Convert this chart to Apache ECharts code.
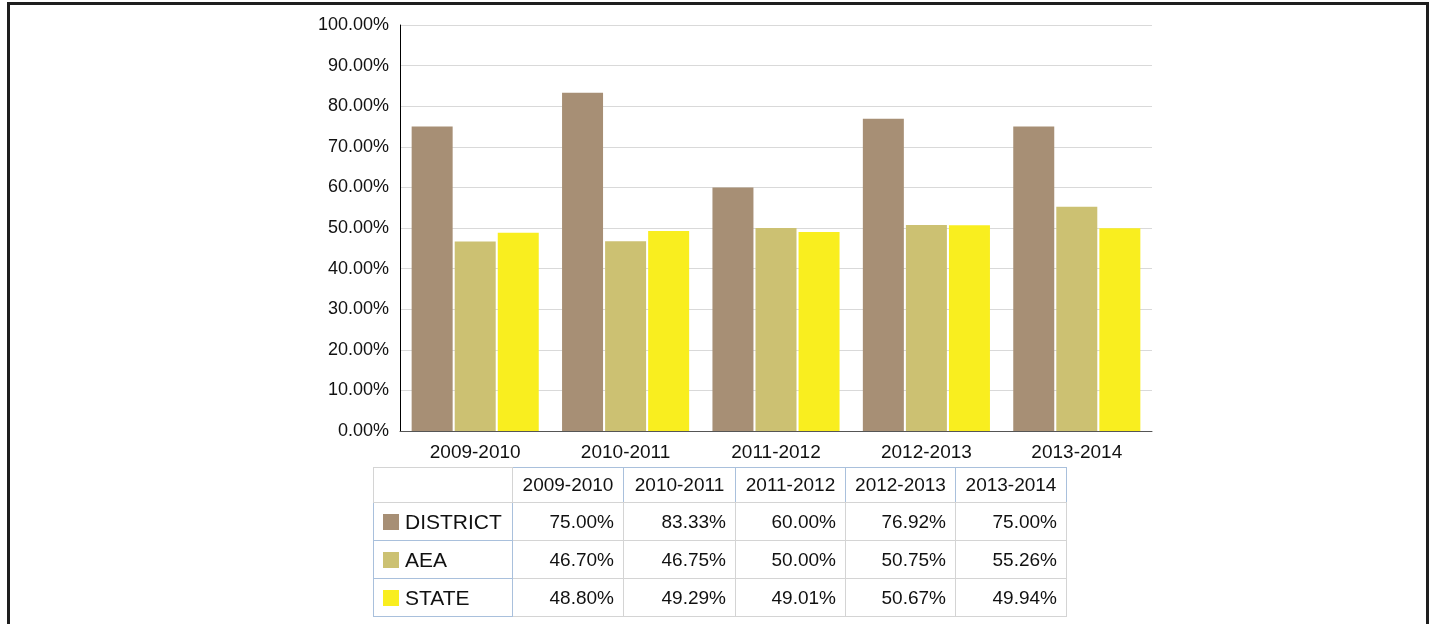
<!DOCTYPE html>
<html>
<head>
<meta charset="utf-8">
<script src="https://cdn.jsdelivr.net/npm/echarts@6/dist/echarts.min.js"></script>
<style>
  html, body { margin: 0; padding: 0; background: #fff; width: 1432px; height: 624px; overflow: hidden; }
  #frame { position: absolute; left: 7px; top: 2px; width: 1416px; height: 700px; border: 3px solid #1e1e1e; box-sizing: content-box; }
  #chart { position: absolute; left: 0; top: 0; width: 1432px; height: 470px; }
  #tbl { position: absolute; left: 373px; top: 467px; border-collapse: collapse; font-family: "Liberation Sans", Arial, sans-serif; color: #111; table-layout: fixed; }
  #tbl td { padding: 0; box-sizing: border-box; overflow: hidden; }
  #tbl td.hd { height: 35px; font-size: 19px; text-align: center; border: 1px solid #a9c0dc; border-bottom-color: #d4d4d4; }
  #tbl td.corner { border: 1px solid #d4d4d4; }
  #tbl td.lab { height: 38px; font-size: 21px; border: 1px solid #a9c0dc; border-top-color: #d4d4d4; white-space: nowrap; padding-left: 9px; }
  #tbl td.val { font-size: 19px; text-align: right; padding-right: 9px; border: 1px solid #d4d4d4; }
  .sw { display: inline-block; width: 16px; height: 16px; vertical-align: -1px; margin-right: 6px; }
</style>
</head>
<body>
<div id="chart"></div>
<table id="tbl"></table>
<div id="frame"></div>
<script>
const categories = ["2009-2010", "2010-2011", "2011-2012", "2012-2013", "2013-2014"];
const seriesNames = ["DISTRICT", "AEA", "STATE"];
const districtValues = [75.00, 83.33, 60.00, 76.92, 75.00];
const aeaValues = [46.70, 46.75, 50.00, 50.75, 55.26];
const stateValues = [48.80, 49.29, 49.01, 50.67, 49.94];
const seriesColors = ["#a78f75", "#ccc172", "#f9ee1f"];
const yTicks = [0, 10, 20, 30, 40, 50, 60, 70, 80, 90, 100];

const allValues = [districtValues, aeaValues, stateValues];
const FONT = '"Liberation Sans", Arial, sans-serif';

const chart = echarts.init(document.getElementById('chart'), null, { renderer: 'canvas' });
chart.setOption({
  animation: false,
  grid: { left: 400, top: 25, width: 752, height: 406, containLabel: false },
  xAxis: {
    type: 'category',
    data: categories,
    axisTick: { show: false },
    axisLine: { lineStyle: { color: '#555', width: 1 } },
    axisLabel: { fontFamily: FONT, fontSize: 19, color: '#111', margin: 12 }
  },
  yAxis: {
    type: 'value',
    min: yTicks[0],
    max: yTicks[yTicks.length - 1],
    interval: yTicks[1] - yTicks[0],
    axisLine: { show: true, lineStyle: { color: '#000', width: 1 } },
    axisTick: { show: false },
    splitLine: { lineStyle: { color: '#d9d9d9', width: 1 } },
    axisLabel: { fontFamily: FONT, fontSize: 18, color: '#111', margin: 11, formatter: v => v.toFixed(2) + '%' }
  },
  series: seriesNames.map((name, i) => ({
    name,
    type: 'bar',
    data: allValues[i],
    barWidth: 41,
    barGap: '5%',
    itemStyle: { color: seriesColors[i] }
  }))
});

// Data table built from the arrays
const tbl = document.getElementById('tbl');
const colW = [139, 111, 112, 110, 110, 111];
let html = '<colgroup>' + colW.map(w => '<col style="width:' + w + 'px">').join('') + '</colgroup>';
html += '<tr><td class="corner"></td>';
categories.forEach(c => { html += '<td class="hd">' + c + '</td>'; });
html += '</tr>';
seriesNames.forEach((name, i) => {
  html += '<tr><td class="lab"><span class="sw" style="background:' + seriesColors[i] + '"></span>' + name + '</td>';
  allValues[i].forEach(v => { html += '<td class="val">' + v.toFixed(2) + '%</td>'; });
  html += '</tr>';
});
tbl.innerHTML = html;
</script>
</body>
</html>
